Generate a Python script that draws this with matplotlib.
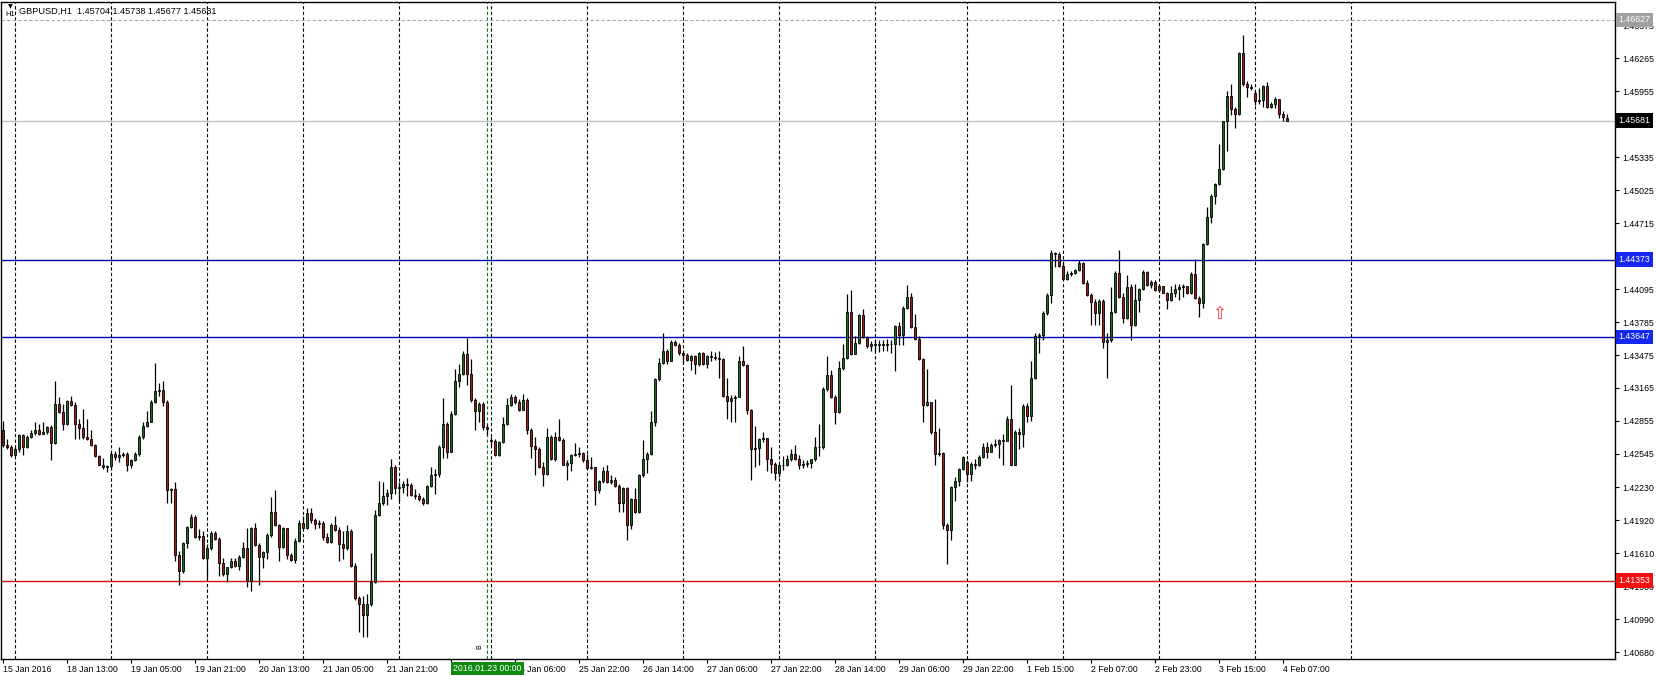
import numpy as np
import matplotlib.pyplot as plt
import matplotlib.transforms as mtransforms

plt.rcParams['font.family'] = ['Liberation Sans', 'DejaVu Sans']

# GBPUSD H1 candles, bar 0 = 15 Jan 21:00, last bar = 4 Feb 08:00
opens = [
    1.42768, 1.42626, 1.42606, 1.42533, 1.42586, 1.42719, 1.42606, 1.42707, 1.42740, 1.42768,
    1.42736, 1.42748, 1.42796, 1.42647, 1.43011, 1.42938, 1.42829, 1.43043, 1.43003, 1.42829,
    1.42788, 1.42707, 1.42687, 1.42626, 1.42525, 1.42444, 1.42424, 1.42432, 1.42545, 1.42517,
    1.42533, 1.42545, 1.42444, 1.42485, 1.42545, 1.42707, 1.42809, 1.42849, 1.43031, 1.43132,
    1.43148, 1.43031, 1.42202, 1.42214, 1.41595, 1.41441, 1.41708, 1.41858, 1.41951, 1.41765,
    1.41773, 1.41562, 1.41655, 1.41797, 1.41748, 1.41522, 1.41413, 1.41481, 1.41534, 1.41494,
    1.41574, 1.41655, 1.41352, 1.41846, 1.41684, 1.41574, 1.41623, 1.41777, 1.41999, 1.41878,
    1.41668, 1.41846, 1.41595, 1.41542, 1.41724, 1.41898, 1.41846, 1.41987, 1.41918, 1.41886,
    1.41898, 1.41765, 1.41716, 1.41878, 1.41829, 1.41696, 1.41655, 1.41817, 1.41494, 1.41190,
    1.41129, 1.41028, 1.41129, 1.41344, 1.41971, 1.42080, 1.42153, 1.42181, 1.42424, 1.42222,
    1.42234, 1.42262, 1.42250, 1.42161, 1.42149, 1.42121, 1.42080, 1.42242, 1.42343, 1.42355,
    1.42606, 1.42829, 1.42566, 1.42918, 1.43233, 1.43294, 1.43488, 1.43294, 1.43051, 1.42950,
    1.43011, 1.42800, 1.42679, 1.42663, 1.42533, 1.42655, 1.42829, 1.43003, 1.43080, 1.43031,
    1.42962, 1.43051, 1.42768, 1.42618, 1.42586, 1.42424, 1.42355, 1.42707, 1.42493, 1.42707,
    1.42679, 1.42444, 1.42456, 1.42537, 1.42545, 1.42554, 1.42485, 1.42416, 1.42424, 1.42202,
    1.42291, 1.42384, 1.42283, 1.42303, 1.42242, 1.42080, 1.42222, 1.41878, 1.42121, 1.41999,
    1.42343, 1.42493, 1.42545, 1.42841, 1.43245, 1.43403, 1.43516, 1.43415, 1.43597, 1.43565,
    1.43496, 1.43472, 1.43424, 1.43464, 1.43395, 1.43496, 1.43395, 1.43464, 1.43456, 1.43448,
    1.43440, 1.43092, 1.43043, 1.43071, 1.43084, 1.43415, 1.43383, 1.42962, 1.42586, 1.42598,
    1.42687, 1.42695, 1.42493, 1.42452, 1.42363, 1.42444, 1.42436, 1.42493, 1.42545, 1.42493,
    1.42444, 1.42452, 1.42460, 1.42493, 1.42606, 1.42614, 1.43152, 1.43286, 1.43084, 1.42938,
    1.43355, 1.43448, 1.43881, 1.43488, 1.43585, 1.43848, 1.43646, 1.43557, 1.43577, 1.43569,
    1.43581, 1.43569, 1.43581, 1.43577, 1.43747, 1.43666, 1.43921, 1.44022, 1.43739, 1.43626,
    1.43436, 1.43003, 1.43031, 1.42748, 1.42545, 1.42554, 1.41878, 1.41829, 1.42234, 1.42291,
    1.42404, 1.42465, 1.42355, 1.42452, 1.42444, 1.42517, 1.42614, 1.42566, 1.42626, 1.42639,
    1.42679, 1.42667, 1.42869, 1.42444, 1.42748, 1.42736, 1.42991, 1.42898, 1.43254, 1.43658,
    1.43666, 1.43869, 1.44042, 1.44435, 1.44427, 1.44314, 1.44192, 1.44241, 1.44245, 1.44273,
    1.44338, 1.44152, 1.44042, 1.43974, 1.43869, 1.43982, 1.43597, 1.43618, 1.43881, 1.44245,
    1.44022, 1.43820, 1.44111, 1.43759, 1.43990, 1.44095, 1.44257, 1.44136, 1.44164, 1.44083,
    1.44123, 1.44063, 1.43990, 1.44063, 1.44095, 1.44111, 1.44123, 1.44055, 1.44233, 1.44014,
    1.43962, 1.44516, 1.44771, 1.44973, 1.45082, 1.45228, 1.45673, 1.45916, 1.45794, 1.45742,
    1.46320, 1.46025, 1.45997, 1.45944, 1.45863, 1.45875, 1.46005, 1.45811, 1.45835, 1.45883,
    1.45742, 1.45704,
]
highs = [
    1.42857, 1.42687, 1.42626, 1.42606, 1.42728, 1.42736, 1.42719, 1.42768, 1.42841, 1.42829,
    1.42849, 1.42809, 1.42817, 1.43233, 1.43084, 1.43011, 1.43051, 1.43092, 1.43031, 1.42869,
    1.42970, 1.42869, 1.42768, 1.42639, 1.42533, 1.42505, 1.42444, 1.42558, 1.42574, 1.42606,
    1.42566, 1.42566, 1.42493, 1.42558, 1.42719, 1.42849, 1.42950, 1.43051, 1.43403, 1.43213,
    1.43233, 1.43051, 1.42222, 1.42283, 1.41635, 1.41716, 1.41870, 1.41979, 1.41967, 1.41837,
    1.41817, 1.41696, 1.41817, 1.41817, 1.41765, 1.41562, 1.41481, 1.41562, 1.41562, 1.41595,
    1.41716, 1.41846, 1.41858, 1.41898, 1.41708, 1.41635, 1.41797, 1.42141, 1.42202, 1.41886,
    1.41858, 1.41846, 1.41615, 1.41757, 1.41918, 1.41959, 1.42040, 1.42040, 1.41939, 1.41918,
    1.41910, 1.41797, 1.41898, 1.41959, 1.41858, 1.41817, 1.41878, 1.41837, 1.41514, 1.41210,
    1.41210, 1.41230, 1.41615, 1.42020, 1.42291, 1.42283, 1.42210, 1.42493, 1.42444, 1.42283,
    1.42291, 1.42315, 1.42274, 1.42210, 1.42181, 1.42141, 1.42250, 1.42424, 1.42404, 1.42626,
    1.43071, 1.42849, 1.42950, 1.43343, 1.43395, 1.43516, 1.43638, 1.43436, 1.43071, 1.43031,
    1.43031, 1.42829, 1.42707, 1.42687, 1.42667, 1.42889, 1.43071, 1.43112, 1.43100, 1.43059,
    1.43112, 1.43071, 1.42788, 1.42707, 1.42606, 1.42465, 1.42788, 1.42719, 1.42748, 1.42869,
    1.42695, 1.42485, 1.42545, 1.42647, 1.42606, 1.42566, 1.42545, 1.42517, 1.42424, 1.42303,
    1.42424, 1.42436, 1.42343, 1.42331, 1.42262, 1.42234, 1.42234, 1.42129, 1.42222, 1.42351,
    1.42679, 1.42566, 1.42950, 1.43254, 1.43448, 1.43678, 1.43529, 1.43618, 1.43618, 1.43585,
    1.43516, 1.43496, 1.43472, 1.43476, 1.43504, 1.43504, 1.43476, 1.43516, 1.43504, 1.43516,
    1.43448, 1.43254, 1.43100, 1.43100, 1.43464, 1.43557, 1.43395, 1.42970, 1.42809, 1.42695,
    1.42748, 1.42695, 1.42606, 1.42465, 1.42452, 1.42525, 1.42533, 1.42586, 1.42626, 1.42533,
    1.42485, 1.42485, 1.42501, 1.42707, 1.42829, 1.43173, 1.43464, 1.43334, 1.43100, 1.43415,
    1.43577, 1.44051, 1.44083, 1.43658, 1.43860, 1.43909, 1.43658, 1.43606, 1.43618, 1.43618,
    1.43618, 1.43626, 1.43618, 1.43759, 1.43788, 1.43933, 1.44136, 1.44063, 1.43860, 1.43650,
    1.43448, 1.43343, 1.43031, 1.43059, 1.42788, 1.42558, 1.41898, 1.42242, 1.42323, 1.42412,
    1.42525, 1.42485, 1.42465, 1.42493, 1.42533, 1.42647, 1.42655, 1.42647, 1.42687, 1.42687,
    1.42728, 1.42898, 1.43193, 1.42768, 1.42788, 1.43011, 1.43019, 1.43415, 1.43678, 1.43678,
    1.43893, 1.44063, 1.44467, 1.44447, 1.44447, 1.44354, 1.44265, 1.44265, 1.44285, 1.44366,
    1.44354, 1.44184, 1.44063, 1.44002, 1.44002, 1.43998, 1.43678, 1.44111, 1.44265, 1.44467,
    1.44063, 1.44225, 1.44144, 1.44144, 1.44103, 1.44273, 1.44265, 1.44184, 1.44184, 1.44144,
    1.44123, 1.44071, 1.44123, 1.44144, 1.44144, 1.44144, 1.44123, 1.44257, 1.44378, 1.44030,
    1.44528, 1.44864, 1.44985, 1.45094, 1.45459, 1.45681, 1.45956, 1.46025, 1.45811, 1.46328,
    1.46490, 1.46053, 1.46025, 1.45956, 1.45985, 1.46013, 1.46045, 1.45859, 1.45904, 1.45883,
    1.45770, 1.45738,
]
lows = [
    1.42614, 1.42586, 1.42517, 1.42525, 1.42566, 1.42533, 1.42598, 1.42695, 1.42719, 1.42719,
    1.42728, 1.42736, 1.42485, 1.42639, 1.42930, 1.42768, 1.42817, 1.42995, 1.42687, 1.42687,
    1.42687, 1.42679, 1.42618, 1.42517, 1.42436, 1.42404, 1.42376, 1.42404, 1.42485, 1.42465,
    1.42517, 1.42384, 1.42412, 1.42477, 1.42525, 1.42687, 1.42800, 1.42841, 1.43023, 1.43092,
    1.42991, 1.42080, 1.42080, 1.41534, 1.41311, 1.41425, 1.41655, 1.41846, 1.41757, 1.41736,
    1.41554, 1.41372, 1.41643, 1.41736, 1.41392, 1.41392, 1.41344, 1.41473, 1.41481, 1.41453,
    1.41562, 1.41291, 1.41251, 1.41676, 1.41311, 1.41473, 1.41554, 1.41765, 1.41870, 1.41534,
    1.41655, 1.41554, 1.41534, 1.41522, 1.41716, 1.41837, 1.41837, 1.41898, 1.41837, 1.41846,
    1.41736, 1.41708, 1.41708, 1.41817, 1.41534, 1.41554, 1.41643, 1.41481, 1.41170, 1.40866,
    1.40826, 1.40826, 1.41117, 1.41332, 1.41959, 1.42060, 1.42060, 1.42121, 1.42169, 1.42100,
    1.42181, 1.42153, 1.42153, 1.42121, 1.42100, 1.42060, 1.42072, 1.42234, 1.42169, 1.42323,
    1.42505, 1.42505, 1.42558, 1.42910, 1.43173, 1.43286, 1.43193, 1.43031, 1.42768, 1.42849,
    1.42768, 1.42719, 1.42626, 1.42525, 1.42525, 1.42647, 1.42817, 1.42991, 1.43011, 1.42950,
    1.42954, 1.42736, 1.42505, 1.42343, 1.42412, 1.42242, 1.42343, 1.42485, 1.42477, 1.42667,
    1.42436, 1.42303, 1.42384, 1.42525, 1.42517, 1.42465, 1.42404, 1.42404, 1.42060, 1.42181,
    1.42274, 1.42274, 1.42262, 1.42234, 1.41999, 1.41999, 1.41736, 1.41837, 1.41991, 1.41991,
    1.42331, 1.42363, 1.42533, 1.42809, 1.43233, 1.43391, 1.43395, 1.43415, 1.43557, 1.43476,
    1.43395, 1.43415, 1.43334, 1.43294, 1.43375, 1.43383, 1.43355, 1.43415, 1.43432, 1.43254,
    1.43084, 1.42869, 1.42849, 1.42849, 1.43076, 1.43375, 1.42922, 1.42303, 1.42424, 1.42444,
    1.42655, 1.42384, 1.42363, 1.42303, 1.42323, 1.42396, 1.42428, 1.42477, 1.42485, 1.42404,
    1.42412, 1.42424, 1.42412, 1.42477, 1.42525, 1.42586, 1.43140, 1.43071, 1.42829, 1.42930,
    1.43334, 1.43436, 1.43476, 1.43480, 1.43577, 1.43638, 1.43545, 1.43516, 1.43504, 1.43504,
    1.43516, 1.43516, 1.43496, 1.43326, 1.43569, 1.43569, 1.43909, 1.43731, 1.43618, 1.43428,
    1.42841, 1.42991, 1.42728, 1.42444, 1.42525, 1.41837, 1.41506, 1.41736, 1.42100, 1.42242,
    1.42396, 1.42283, 1.42291, 1.42404, 1.42428, 1.42509, 1.42505, 1.42558, 1.42614, 1.42505,
    1.42444, 1.42671, 1.42436, 1.42436, 1.42586, 1.42606, 1.42849, 1.42857, 1.43245, 1.43496,
    1.43618, 1.43852, 1.43962, 1.44306, 1.44306, 1.44184, 1.44184, 1.44217, 1.44233, 1.44265,
    1.44144, 1.44030, 1.43759, 1.43759, 1.43759, 1.43537, 1.43262, 1.43597, 1.43869, 1.44014,
    1.43780, 1.43812, 1.43618, 1.43747, 1.43881, 1.44083, 1.44123, 1.44103, 1.44079, 1.44071,
    1.44055, 1.43909, 1.43982, 1.44022, 1.43990, 1.44022, 1.44047, 1.44047, 1.44006, 1.43828,
    1.43921, 1.44508, 1.44718, 1.44892, 1.45074, 1.45220, 1.45398, 1.45730, 1.45608, 1.45730,
    1.46005, 1.45904, 1.45964, 1.45823, 1.45835, 1.45811, 1.45803, 1.45803, 1.45803, 1.45701,
    1.45681, 1.45677,
]
closes = [
    1.42626, 1.42606, 1.42533, 1.42586, 1.42719, 1.42606, 1.42707, 1.42740, 1.42768, 1.42736,
    1.42748, 1.42796, 1.42647, 1.43011, 1.42938, 1.42829, 1.43043, 1.43003, 1.42829, 1.42788,
    1.42707, 1.42687, 1.42626, 1.42525, 1.42444, 1.42424, 1.42432, 1.42545, 1.42517, 1.42533,
    1.42545, 1.42444, 1.42485, 1.42545, 1.42707, 1.42809, 1.42849, 1.43031, 1.43132, 1.43148,
    1.43031, 1.42202, 1.42214, 1.41595, 1.41441, 1.41708, 1.41858, 1.41951, 1.41765, 1.41773,
    1.41562, 1.41655, 1.41797, 1.41748, 1.41522, 1.41413, 1.41481, 1.41534, 1.41494, 1.41574,
    1.41655, 1.41352, 1.41846, 1.41684, 1.41574, 1.41623, 1.41777, 1.41999, 1.41878, 1.41668,
    1.41846, 1.41595, 1.41542, 1.41724, 1.41898, 1.41846, 1.41987, 1.41918, 1.41886, 1.41898,
    1.41765, 1.41716, 1.41878, 1.41829, 1.41696, 1.41655, 1.41817, 1.41494, 1.41190, 1.41129,
    1.41028, 1.41129, 1.41344, 1.41971, 1.42080, 1.42153, 1.42181, 1.42424, 1.42222, 1.42234,
    1.42262, 1.42250, 1.42161, 1.42149, 1.42121, 1.42080, 1.42242, 1.42343, 1.42355, 1.42606,
    1.42829, 1.42566, 1.42918, 1.43233, 1.43294, 1.43488, 1.43294, 1.43051, 1.42950, 1.43011,
    1.42800, 1.42780, 1.42663, 1.42533, 1.42655, 1.42829, 1.43003, 1.43080, 1.43031, 1.42962,
    1.43051, 1.42768, 1.42618, 1.42586, 1.42424, 1.42355, 1.42707, 1.42493, 1.42707, 1.42679,
    1.42444, 1.42456, 1.42537, 1.42545, 1.42554, 1.42485, 1.42416, 1.42424, 1.42202, 1.42291,
    1.42384, 1.42283, 1.42303, 1.42242, 1.42080, 1.42222, 1.41878, 1.42121, 1.41999, 1.42343,
    1.42493, 1.42545, 1.42841, 1.43245, 1.43403, 1.43516, 1.43415, 1.43597, 1.43565, 1.43496,
    1.43472, 1.43424, 1.43464, 1.43395, 1.43496, 1.43395, 1.43464, 1.43456, 1.43448, 1.43440,
    1.43092, 1.43043, 1.43071, 1.43084, 1.43415, 1.43383, 1.42962, 1.42586, 1.42598, 1.42687,
    1.42695, 1.42493, 1.42452, 1.42363, 1.42444, 1.42436, 1.42493, 1.42545, 1.42493, 1.42444,
    1.42452, 1.42460, 1.42493, 1.42606, 1.42614, 1.43152, 1.43286, 1.43084, 1.42938, 1.43355,
    1.43448, 1.43881, 1.43488, 1.43585, 1.43848, 1.43646, 1.43557, 1.43577, 1.43569, 1.43581,
    1.43569, 1.43581, 1.43577, 1.43747, 1.43666, 1.43921, 1.44022, 1.43739, 1.43626, 1.43436,
    1.43003, 1.43031, 1.42748, 1.42545, 1.42554, 1.41878, 1.41829, 1.42234, 1.42291, 1.42404,
    1.42517, 1.42355, 1.42452, 1.42444, 1.42517, 1.42614, 1.42566, 1.42626, 1.42639, 1.42679,
    1.42667, 1.42869, 1.42444, 1.42748, 1.42736, 1.42991, 1.42898, 1.43254, 1.43658, 1.43666,
    1.43869, 1.44042, 1.44435, 1.44427, 1.44314, 1.44192, 1.44241, 1.44245, 1.44273, 1.44338,
    1.44152, 1.44042, 1.43974, 1.43869, 1.43982, 1.43597, 1.43618, 1.43881, 1.44245, 1.44022,
    1.43820, 1.44111, 1.43759, 1.43990, 1.44095, 1.44257, 1.44136, 1.44164, 1.44083, 1.44123,
    1.44063, 1.43990, 1.44063, 1.44095, 1.44111, 1.44123, 1.44055, 1.44233, 1.44014, 1.43962,
    1.44516, 1.44771, 1.44973, 1.45082, 1.45228, 1.45673, 1.45916, 1.45794, 1.45742, 1.46320,
    1.46025, 1.45997, 1.45989, 1.45863, 1.45875, 1.46005, 1.45811, 1.45835, 1.45883, 1.45742,
    1.45714, 1.45681,
]

# time axis labels, one every 16 bars ("" = hidden under the cursor box)
time_labels = ["15 Jan 2016", "18 Jan 13:00", "19 Jan 05:00", "19 Jan 21:00", "20 Jan 13:00",
               "21 Jan 05:00", "21 Jan 21:00", "", "25 Jan 06:00", "25 Jan 22:00",
               "26 Jan 14:00", "27 Jan 06:00", "27 Jan 22:00", "28 Jan 14:00", "29 Jan 06:00",
               "29 Jan 22:00", "1 Feb 15:00", "2 Feb 07:00", "2 Feb 23:00", "3 Feb 15:00",
               "4 Feb 07:00"]
label_step = 16
# first bar of each trading day (vertical grid)
day_starts = [3, 27, 51, 75, 99, 122, 146, 170, 194, 218, 241, 265, 289, 313, 337]

price_ticks = [1.46575, 1.46265, 1.45955, 1.45645, 1.45335, 1.45025, 1.44715, 1.44405,
               1.44095, 1.43785, 1.43475, 1.43165, 1.42855, 1.42545, 1.42230, 1.41920,
               1.41610, 1.41300, 1.40990, 1.40680]
# tick labels that sit under a price box on the scale
hidden_ticks = [1.45645, 1.44405]

high_line = 1.46627
bid_line = 1.45681
resistance = [1.44373, 1.43647]
support = [1.41353]

title = "GBPUSD,H1  1.45704 1.45738 1.45677 1.45681"
cursor_bar = 121.1
cursor_text = "2016.01.23 00:00"
arrow_bar = 304
arrow_price = 1.43860

o = np.array(opens)
h = np.array(highs)
l = np.array(lows)
c = np.array(closes)
x = np.arange(len(c))

W, H = 1658, 676
fig = plt.figure(figsize=(W / 100, H / 100), dpi=100)
ax = fig.add_axes([1 / W, 17 / H, 1614 / W, 657 / H])
ax.set_xlim(-0.5, 403)
ax.set_ylim(1.40615, 1.46796)

# daily grid
for d in day_starts:
    ax.axvline(d, color='black', lw=0.8, ls=(0, (3, 2)), zorder=1)
ax.axvline(cursor_bar, color='#0a7a0a', lw=0.8, ls=(0, (3, 2)), zorder=1)

# level lines
ax.axhline(high_line, color='#a8a8a8', lw=0.8, ls=(0, (3, 2)), zorder=1)
ax.axhline(bid_line, color='#c0c0c0', lw=1.0, zorder=1)
for r in resistance:
    ax.axhline(r, color='#0000b0', lw=1.0, zorder=2)
for s in support:
    ax.axhline(s, color='#d01010', lw=1.0, zorder=2)

# candles
ax.vlines(x, l, h, color='black', lw=0.9, zorder=3)
up = c >= o
dn = ~up
ax.bar(x[up], (c - o)[up], bottom=o[up], width=0.72, color='#1f6a1f',
       edgecolor='black', linewidth=0.6, zorder=4)
ax.bar(x[dn], (c - o)[dn], bottom=o[dn], width=0.72, color='#a01c1c',
       edgecolor='black', linewidth=0.6, zorder=4)

# signal arrow
ax.text(arrow_bar, arrow_price, "\u21e7", color='#ff3030', fontsize=12,
        ha='center', va='center', family='DejaVu Sans', zorder=5)

# axes styling
for sp in ax.spines.values():
    sp.set_color('black')
    sp.set_linewidth(1.0)
ax.yaxis.tick_right()
ax.set_yticks(price_ticks)
ax.set_yticklabels(["" if p in hidden_ticks else f"{p:.5f}" for p in price_ticks])
ax.tick_params(axis='y', length=3, width=0.8, pad=2, labelsize=6.3, colors='black')
ax.set_xticks(np.arange(len(time_labels)) * label_step)
ax.set_xticklabels(time_labels, ha='left')
ax.tick_params(axis='x', length=3, width=0.8, pad=1, labelsize=6.3, colors='black')

# price boxes on the right scale
ytr = mtransforms.blended_transform_factory(ax.transAxes, ax.transData)
boxes = [(high_line, '#a0a0a0'), (bid_line, 'black')]
boxes += [(r, '#1428f0') for r in resistance]
boxes += [(s, '#f01010') for s in support]
for price, col in boxes:
    ax.text(1.0022, price, f"{price:.5f}", transform=ytr, ha='left', va='center',
            fontsize=6.3, color='white', zorder=10, clip_on=False,
            bbox=dict(boxstyle='square,pad=0.3', fc=col, ec='none'))

# cursor date box on the time scale
xtr = mtransforms.blended_transform_factory(ax.transData, ax.transAxes)
ax.text(cursor_bar, -0.0075, cursor_text, transform=xtr, ha='center', va='top',
        fontsize=6.3, color='white', zorder=10, clip_on=False,
        bbox=dict(boxstyle='square,pad=0.25', fc='#108a10', ec='none'))
ax.text(cursor_bar - 2, 1.40727, "B", rotation=90, fontsize=5, ha='center', va='center')

# header
fig.text(19 / W, 1 - 11 / H, title, fontsize=6.6, ha='left', va='center')
fig.text(5 / W, 1 - 14 / H, "H1", fontsize=5.5, ha='left', va='center')
fig.text(10 / W, 1 - 7 / H, "\u25bc", fontsize=4.5, ha='center', va='center',
         family='DejaVu Sans')

fig.savefig('out.png', dpi=100)
